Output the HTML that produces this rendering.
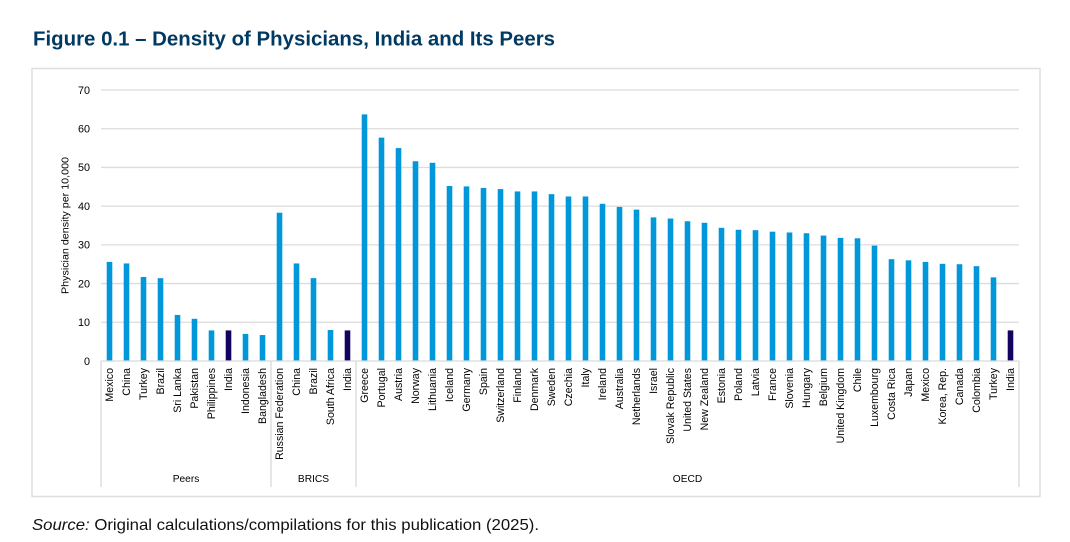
<!DOCTYPE html>
<html>
<head>
<meta charset="utf-8">
<style>
html,body{margin:0;padding:0;background:#fff;width:1070px;height:542px;overflow:hidden}
svg{display:block}
text{font-family:"Liberation Sans",sans-serif}
</style>
</head>
<body>
<svg id="chart" width="1070" height="542" viewBox="0 0 1070 542">
<text x="33" y="45.500" font-size="20" font-weight="bold" fill="#003a63" textLength="522" lengthAdjust="spacingAndGlyphs">Figure 0.1 – Density of Physicians, India and Its Peers</text>
<rect x="32" y="68.500" width="1008" height="428" fill="#fff" stroke="#dedede" stroke-width="1.500"/>
<text x="68.500" y="225.500" font-size="10.500" fill="#000" text-anchor="middle" transform="rotate(-90 68.500 225.500)" textLength="137" lengthAdjust="spacingAndGlyphs">Physician density per 10,000</text>
<g id="grid"></g>
<g id="bars"></g>
<g id="axis"></g>
<text x="32" y="530" font-size="16" fill="#111" textLength="507" lengthAdjust="spacingAndGlyphs"><tspan font-style="italic">Source:</tspan> Original calculations/compilations for this publication (2025).</text>
</svg>
<script>
const peerCategories = ["Mexico","China","Turkey","Brazil","Sri Lanka","Pakistan","Philippines","India","Indonesia","Bangladesh"];
const peerValues = [25.6,25.2,21.7,21.4,11.9,10.9,7.9,7.9,7.0,6.7];
const bricsCategories = ["Russian Federation","China","Brazil","South Africa","India"];
const bricsValues = [38.3,25.2,21.4,8.0,7.9];
const oecdCategories = ["Greece","Portugal","Austria","Norway","Lithuania","Iceland","Germany","Spain","Switzerland","Finland","Denmark","Sweden","Czechia","Italy","Ireland","Australia","Netherlands","Israel","Slovak Republic","United States","New Zealand","Estonia","Poland","Latvia","France","Slovenia","Hungary","Belgium","United Kingdom","Chile","Luxembourg","Costa Rica","Japan","Mexico","Korea, Rep.","Canada","Colombia","Turkey","India"];
const oecdValues = [63.7,57.7,55.0,51.6,51.2,45.2,45.1,44.7,44.4,43.8,43.8,43.1,42.5,42.5,40.6,39.8,39.1,37.1,36.8,36.1,35.7,34.4,33.9,33.8,33.4,33.2,33.0,32.4,31.8,31.7,29.8,26.3,26.0,25.6,25.1,25.0,24.5,21.6,7.9];
const groupNames = ["Peers","BRICS","OECD"];
const yTicks = [0,10,20,30,40,50,60,70];
const highlightCategory = "India";

const NS = "http://www.w3.org/2000/svg";
const plotLeft = 101, plotRight = 1019, plotBottom = 361, plotTop = 90, yMax = 70;
const groups = [
  {name: groupNames[0], cats: peerCategories, vals: peerValues},
  {name: groupNames[1], cats: bricsCategories, vals: bricsValues},
  {name: groupNames[2], cats: oecdCategories, vals: oecdValues}
];
const total = groups.reduce(function (s, g) { return s + g.cats.length; }, 0);
const step = (plotRight - plotLeft) / total;
function xEdge(i) { return plotLeft + i * step; }
function xCenter(i) { return xEdge(i) + step / 2; }
function yScale(v) { return plotBottom - (v / yMax) * (plotBottom - plotTop); }
function make(tag, attrs, parent, txt) {
  const el = document.createElementNS(NS, tag);
  for (const k in attrs) el.setAttribute(k, attrs[k]);
  if (txt !== undefined) el.textContent = txt;
  parent.appendChild(el);
  return el;
}
const gridG = document.getElementById("grid");
const barsG = document.getElementById("bars");
const axisG = document.getElementById("axis");

yTicks.forEach(function (t) {
  const y = yScale(t);
  if (t > 0) {
    const line = make("line", {x1: plotLeft, x2: plotRight, y1: y, y2: y, stroke: "#dcdcdc", "stroke-width": 1.3}, gridG);
    
    
  }
  const lab = make("text", {x: 90, y: y + 3.800, "font-size": 10.800, "text-anchor": "end", fill: "#000"}, gridG, String(t));
  
  
});

let idx = 0;
groups.forEach(function (g) {
  const start = idx;
  g.cats.forEach(function (c, j) {
    const cx = xCenter(idx);
    const y = yScale(g.vals[j]);
    const bar = make("rect", {x: cx - 2.800, y: y, width: 5.600, height: plotBottom - y, fill: c === highlightCategory ? "#14045f" : "#0098db"}, barsG);
    
    
    const lab = make("text", {x: 0, y: 0, "font-size": 10.600, "text-anchor": "end", fill: "#000", transform: "translate(" + (cx + 3.500) + ",368) rotate(-90)"}, axisG, c);
    
    
    idx++;
  });
  const div = make("line", {x1: xEdge(start), x2: xEdge(start), y1: plotBottom, y2: 487, stroke: "#d9d9d9", "stroke-width": 1.300}, axisG);
  
  
  const gl = make("text", {x: (xEdge(start) + xEdge(idx)) / 2, y: 482, "font-size": 10.200, "text-anchor": "middle", fill: "#000"}, axisG, g.name);
  
  
});
const endDiv = make("line", {x1: plotRight, x2: plotRight, y1: plotBottom, y2: 487, stroke: "#d9d9d9", "stroke-width": 1.300}, axisG);


const base = make("line", {x1: plotLeft, x2: plotRight, y1: plotBottom, y2: plotBottom, stroke: "#d9d9d9", "stroke-width": 1.300}, axisG);


</script>
</body>
</html>
